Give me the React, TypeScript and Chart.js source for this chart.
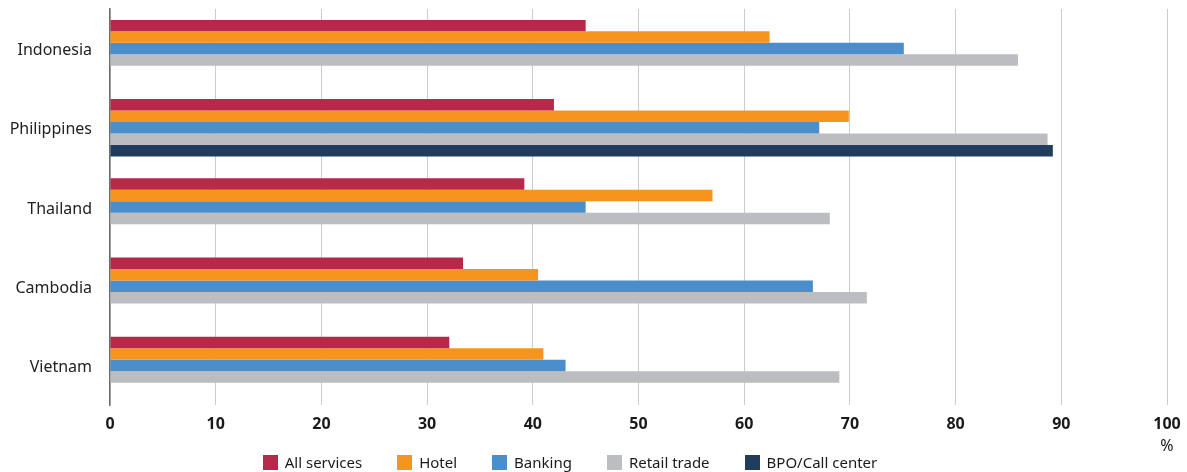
import React, { useEffect, useRef } from "react";
import { Chart, registerables } from "chart.js";

Chart.register(...registerables);

const categories = ["Indonesia", "Philippines", "Thailand", "Cambodia", "Vietnam"];
const seriesNames = ["All services", "Hotel", "Banking", "Retail trade", "BPO/Call center"];
const allServices = [45.0, 42.0, 39.2, 33.4, 32.1];
const hotel = [62.4, 69.9, 57.0, 40.5, 41.0];
const banking = [75.1, 67.1, 45.0, 66.5, 43.1];
const retailTrade = [85.9, 88.7, 68.1, 71.6, 69.0];
const bpoCallCenter = [null, 89.2, null, null, null];
const xTicks = [0, 10, 20, 30, 40, 50, 60, 70, 80, 90, 100];
const unitLabel = "%";
const colors = ["#B8284A", "#F7941E", "#4A8ECC", "#BCBDC0", "#213D5E"];

const FONT = "'Noto Sans', 'Open Sans', sans-serif";

export default function App() {
  const canvasRef = useRef<HTMLCanvasElement | null>(null);

  useEffect(() => {
    const canvas = canvasRef.current;
    if (!canvas) return;
    const values = [allServices, hotel, banking, retailTrade, bpoCallCenter];

    const percentPlugin = {
      id: "percentLabel",
      afterDraw(chart: any) {
        const x = chart.scales.x;
        const ctx = chart.ctx;
        ctx.save();
        ctx.font = `normal 16px ${FONT}`;
        ctx.fillStyle = "#1a1a1a";
        ctx.textAlign = "center";
        ctx.textBaseline = "middle";
        ctx.fillText(unitLabel, x.getPixelForValue(100), 446);
        ctx.restore();
      },
    };

    const chart = new Chart(canvas, {
      type: "bar",
      data: {
        labels: categories,
        datasets: seriesNames.map((name, i) => ({
          label: name,
          data: values[i] as any,
          backgroundColor: colors[i],
          borderWidth: 0,
          barPercentage: 1,
          categoryPercentage: 0.725,
          skipNull: false,
        })),
      },
      options: {
        indexAxis: "y",
        animation: false,
        responsive: false,
        maintainAspectRatio: false,
        layout: { padding: { left: 0, right: 20, top: 9, bottom: 37 } },
        plugins: {
          legend: { display: false },
          tooltip: { enabled: false },
        },
        scales: {
          x: {
            min: 0,
            max: 100,
            afterBuildTicks(scale: any) {
              scale.ticks = xTicks.map((v) => ({ value: v }));
            },
            afterFit(scale: any) {
              scale.height = 30;
              scale.paddingLeft = 0;
              scale.paddingRight = 0;
            },
            grid: {
              color: "#cccccc",
              lineWidth: 1,
              drawTicks: false,
            },
            border: { display: false },
            ticks: {
              padding: 10,
              color: "#1a1a1a",
              font: { family: FONT, size: 16, weight: "bold" },
            },
          },
          y: {
            afterFit(scale: any) {
              scale.width = 110;
              scale.paddingTop = 0;
              scale.paddingBottom = 0;
            },
            grid: { display: false, drawTicks: false },
            border: { display: true, color: "#6d6d6d", width: 1.5 },
            ticks: {
              padding: 18,
              labelOffset: 2,
              color: "#222222",
              font: { family: FONT, size: 16 },
            },
          },
        },
      },
      plugins: [percentPlugin],
    } as any);

    return () => chart.destroy();
  }, []);

  return (
    <div style={{ position: "fixed", left: 0, top: 0, width: 1187, height: 472, background: "#fff" }}>
      <canvas ref={canvasRef} width={1187} height={472} style={{ display: "block" }} />
      <div
        style={{
          position: "absolute",
          left: 0,
          width: 1140,
          top: 452,
          height: 20,
          display: "flex",
          justifyContent: "center",
          alignItems: "center",
          fontFamily: FONT,
          fontSize: 15,
          color: "#1a1a1a",
        }}
      >
        {seriesNames.map((name, i) => (
          <div key={name} style={{ display: "flex", alignItems: "center", marginLeft: i === 0 ? 0 : 35 }}>
            <span style={{ display: "inline-block", width: 15, height: 15, background: colors[i], marginRight: 7 }} />
            <span style={{ lineHeight: "20px" }}>{name}</span>
          </div>
        ))}
      </div>
    </div>
  );
}
